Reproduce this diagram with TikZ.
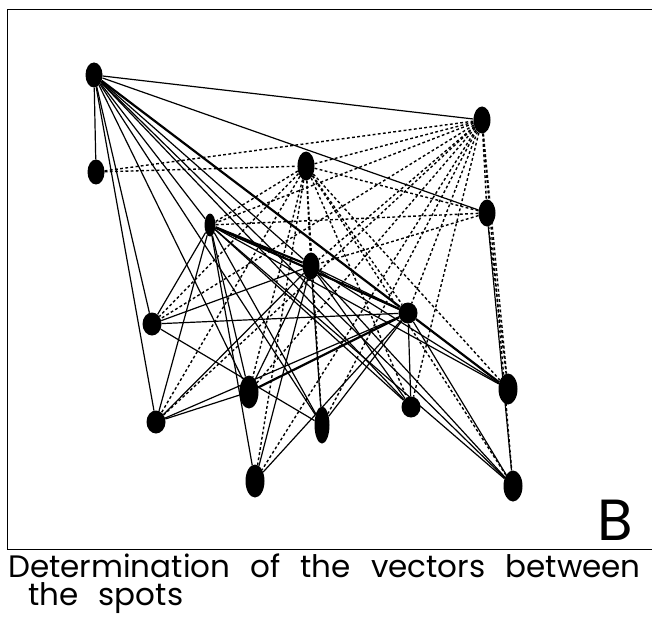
\documentclass[tikz,border=0pt]{standalone}
\usepackage{fontspec}
\setmainfont{Poppins}
\usetikzlibrary{shapes.geometric}
\tikzset{
  spot/.style={ellipse,fill=black,draw=none,inner sep=0pt,minimum width=#1},
  spot/.default=17pt,
  vec/.style={line width=1.2pt,color=black},
  vecthick/.style={line width=2.2pt,color=black},
  vecdash/.style={line width=1.4pt,dash pattern=on 2.8pt off 2.4pt},
  frame/.style={line width=1pt}
}
\newcommand{\wide}{\spaceskip=0.65em\relax}

\begin{document}
\begin{tikzpicture}[x=1pt,y=-1pt]
  \useasboundingbox (0,0) rectangle (652,620);
  \draw[frame] (652,10) -- (7,10) -- (7,549) -- (652,549);

  % spots
  \node[spot,minimum height=25pt] (a) at (94,75) {};
  \node[spot,minimum height=25pt] (b) at (96,172) {};
  \node[spot,minimum height=27pt] (c) at (482,120) {};
  \node[spot,minimum height=29pt] (d) at (306,166) {};
  \node[spot,minimum height=27pt] (e) at (487,213) {};
  \node[spot=11pt,minimum height=23pt] (f) at (210,225) {};
  \node[spot,minimum height=27pt] (g) at (311,266) {};
  \node[spot=19pt,minimum height=23pt] (h) at (152,324) {};
  \node[spot=19pt,minimum height=21pt] (i) at (408,313) {};
  \node[spot=19pt,minimum height=33pt] (j) at (249,392) {};
  \node[spot=19pt,minimum height=31pt] (k) at (508,389) {};
  \node[spot=19pt,minimum height=23pt] (l) at (156,422) {};
  \node[spot=15pt,minimum height=37pt] (m) at (322,425) {};
  \node[spot=19pt,minimum height=21pt] (n) at (411,407) {};
  \node[spot=19pt,minimum height=33pt] (o) at (255,481) {};
  \node[spot=19pt,minimum height=31pt] (p) at (513,486) {};

  % vectors
  \foreach \s/\t in {a/b,a/c,a/e,a/f,a/g,a/h,a/j,a/l,a/m,a/n,a/p,
                     f/h,f/j,f/k,f/l,f/m,f/n,f/o,f/p,
                     g/h,g/i,g/j,g/k,g/l,g/m,g/n,g/o,g/p,
                     h/i,h/m,i/l,i/m,i/n,i/k,i/p,i/o,j/l,e/p}
    \draw[vec] (\s) -- (\t);
  \foreach \s/\t in {a/i,i/k,f/g,f/i,i/j}
    \draw[vecthick] (\s) -- (\t);
  \foreach \s/\t in {b/c,b/d,d/c,d/e,d/f,d/g,d/h,d/i,d/j,d/k,d/l,d/m,d/n,d/o,d/p,
                     c/e,c/f,c/g,c/h,c/i,c/j,c/k,c/l,c/m,c/n,c/o,c/p,e/k,e/g,e/f}
    \draw[vecdash] (\s) -- (\t);

  \node[font=\fontsize{58}{58}\selectfont,anchor=base] (lab) at (615,540) {B};
  \node[anchor=north west,align=left,inner sep=0pt,
        font=\fontsize{31}{28}\selectfont] (cap) at (8,554)
        {\wide Determination of the vectors between\\\wide\ the spots};
\end{tikzpicture}
\end{document}
